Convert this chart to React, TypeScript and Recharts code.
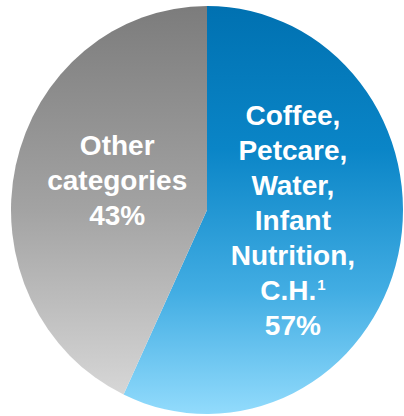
import { PieChart, Pie, Cell } from "recharts";

// share of sales, in percent
const categories = ["Coffee, Petcare, Water, Infant Nutrition, C.H.", "Other categories"];
const shares = [57, 43];
// label lines drawn inside each slice; "^" marks a superscript footnote
const labelLines = [
  ["Coffee,", "Petcare,", "Water,", "Infant", "Nutrition,", "C.H.^1", "57%"],
  ["Other", "categories", "43%"],
];

const data = categories.map((name, i) => ({ name, value: shares[i] }));
const fills = ["url(#blueGrad)", "url(#grayGrad)"];

const W = 404;
const H = 416;
const CX = 207;
const CY = 210;
const R = 200;
// the source pie is slightly taller than wide
const SX = 0.98;
const SY = 1.02;
const LINE = 35;
const FONT = "'Liberation Sans', Arial, sans-serif";

// elliptical sector built from the angles recharts hands to the shape
const EllipseSector = (props: any) => {
  const { cx, cy, outerRadius, startAngle, endAngle, fill } = props;
  const rx = outerRadius * SX;
  const ry = outerRadius * SY;
  const rad = Math.PI / 180;
  const x0 = cx + rx * Math.cos(startAngle * rad);
  const y0 = cy - ry * Math.sin(startAngle * rad);
  const x1 = cx + rx * Math.cos(endAngle * rad);
  const y1 = cy - ry * Math.sin(endAngle * rad);
  const large = Math.abs(endAngle - startAngle) > 180 ? 1 : 0;
  const sweep = endAngle < startAngle ? 1 : 0;
  const d = `M${cx},${cy} L${x0},${y0} A${rx},${ry} 0 ${large} ${sweep} ${x1},${y1} Z`;
  return <path d={d} fill={fill} stroke="none" />;
};

const SliceLabel = (props: any) => {
  const { cx, cy, midAngle, outerRadius, index } = props;
  const lines = labelLines[index];
  const rad = Math.PI / 180;
  const dist = outerRadius * (index === 0 ? 0.44 : 0.46);
  const x = cx + dist * Math.cos(midAngle * rad);
  const y = cy - dist * Math.sin(midAngle * rad) - (index === 0 ? 9 : 10);
  const top = y - ((lines.length - 1) * LINE) / 2;
  return (
    <text
      x={x}
      y={top}
      textAnchor="middle"
      fill="#ffffff"
      fontFamily={FONT}
      fontWeight="bold"
      fontSize={28}
      dominantBaseline="central"
    >
      {lines.map((ln, i) => {
        const [main, sup] = ln.split("^");
        return (
          <tspan key={i} x={x} y={top + i * LINE}>
            {main}
            {sup && (
              <tspan fontSize={15} dx={1} dy={-6}>
                {sup}
              </tspan>
            )}
          </tspan>
        );
      })}
    </text>
  );
};

export default function App() {
  return (
    <div style={{ position: "absolute", left: 0, top: 0, width: W, height: H, background: "#fff" }}>
      <svg width={0} height={0} style={{ position: "absolute" }}>
        <defs>
          <linearGradient id="blueGrad" gradientUnits="userSpaceOnUse" x1={0} y1={CY - R * SY} x2={0} y2={CY + R * SY}>
            <stop offset="0" stopColor="#0071b1" />
            <stop offset="0.35" stopColor="#0a85c7" />
            <stop offset="0.7" stopColor="#42ade3" />
            <stop offset="1" stopColor="#92dbfc" />
          </linearGradient>
          <linearGradient id="grayGrad" gradientUnits="userSpaceOnUse" x1={0} y1={CY - R * SY} x2={0} y2={CY + R * SY}>
            <stop offset="0" stopColor="#7c7c7c" />
            <stop offset="0.5" stopColor="#a3a3a3" />
            <stop offset="1" stopColor="#dcdcdc" />
          </linearGradient>
        </defs>
      </svg>
      <PieChart width={W} height={H} margin={{ top: 0, right: 0, bottom: 0, left: 0 }}>
        <Pie
          data={data}
          dataKey="value"
          nameKey="name"
          cx={CX}
          cy={CY}
          outerRadius={R}
          startAngle={90}
          endAngle={-270}
          stroke="none"
          shape={EllipseSector}
          label={SliceLabel}
          labelLine={false}
          isAnimationActive={false}
        >
          {data.map((_, i) => (
            <Cell key={`cell-${i}`} fill={fills[i]} />
          ))}
        </Pie>
      </PieChart>
    </div>
  );
}
